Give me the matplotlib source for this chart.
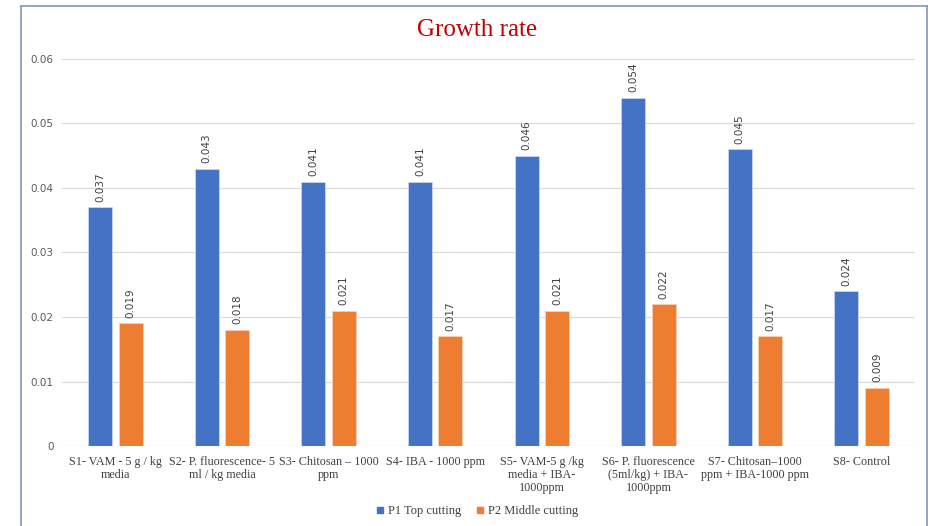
import matplotlib
matplotlib.use("Agg")
import matplotlib.pyplot as plt
import numpy as np
from matplotlib.lines import Line2D

categories = [
    "S1- VAM - 5 g / kg\nmedia",
    "S2- P. fluorescence- 5\nml / kg media",
    "S3- Chitosan – 1000\nppm",
    "S4- IBA - 1000 ppm",
    "S5- VAM-5 g /kg\nmedia + IBA-\n1000ppm",
    "S6- P. fluorescence\n(5ml/kg) + IBA-\n1000ppm",
    "S7- Chitosan–1000\nppm + IBA-1000 ppm",
    "S8- Control",
]
p1_values = [0.037, 0.043, 0.041, 0.041, 0.045, 0.054, 0.046, 0.024]
p2_values = [0.019, 0.018, 0.021, 0.017, 0.021, 0.022, 0.017, 0.009]
p1_labels = ["0.037", "0.043", "0.041", "0.041", "0.046", "0.054", "0.045", "0.024"]
p2_labels = ["0.019", "0.018", "0.021", "0.017", "0.021", "0.022", "0.017", "0.009"]
series_names = ["P1 Top cutting", "P2 Middle cutting"]
y_ticks = [0, 0.01, 0.02, 0.03, 0.04, 0.05, 0.06]
y_tick_labels = ["0", "0.01", "0.02", "0.03", "0.04", "0.05", "0.06"]

blue = "#4472C4"
orange = "#ED7D31"

fig = plt.figure(figsize=(9.35, 5.26), dpi=100)
ax = fig.add_axes([62/935, (526-446)/526, (915-62)/935, (446-59)/526])

x = np.arange(len(categories))
w = 0.225
off = 0.143
b1 = ax.bar(x - off, p1_values, w, color=blue, edgecolor="#c9d6ee", linewidth=0.6, label=series_names[0], zorder=3)
b2 = ax.bar(x + off, p2_values, w, color=orange, edgecolor="#f8d0b5", linewidth=0.6, label=series_names[1], zorder=3)

for bars, labs in ((b1, p1_labels), (b2, p2_labels)):
    for r, t in zip(bars, labs):
        ax.annotate(t, (r.get_x() + r.get_width()/2, r.get_height()),
                    xytext=(0, 4), textcoords="offset points",
                    rotation=90, ha="center", va="bottom",
                    fontsize=7.5, color="#404040", family="DejaVu Sans")

ax.set_xlim(-0.5, len(categories) - 0.5)
ax.set_ylim(0, 0.06)
ax.set_yticks(y_ticks)
ax.set_yticklabels(y_tick_labels, fontsize=7.5, color="#595959", family="DejaVu Sans")
ax.set_xticks(x)
ax.set_xticklabels(categories, fontsize=8.7, color="#404040", family="Liberation Serif", linespacing=1.15)
ax.tick_params(axis="both", length=0, pad=6)
ax.tick_params(axis="x", pad=7)
ax.grid(axis="y", color="#d9d9d9", linewidth=0.8, zorder=0)
for s in ax.spines.values():
    s.set_visible(False)
ax.axhline(0, color="#d9d9d9", linewidth=0.8, zorder=1)

fig.text(477/935, 1 - 30/526, "Growth rate", ha="center", va="center",
         fontsize=18, color="#C00000", family="Liberation Serif")

handles = [Line2D([], [], marker="s", linestyle="none", markersize=4.5, color=blue),
           Line2D([], [], marker="s", linestyle="none", markersize=4.5, color=orange)]
fig.legend(handles, series_names, loc="center", bbox_to_anchor=(477/935, 1 - 511/526),
           ncol=2, frameon=False, handlelength=0.7, handletextpad=0.3, columnspacing=1.2,
           prop={"family": "Liberation Serif", "size": 9}, labelcolor="#404040")

border = "#8497b8"
fig.add_artist(Line2D([21/935, 21/935], [0, 1 - 6/526], transform=fig.transFigure, color=border, linewidth=1.2))
fig.add_artist(Line2D([21/935, 927/935], [1 - 6/526, 1 - 6/526], transform=fig.transFigure, color=border, linewidth=1.2))
fig.add_artist(Line2D([927/935, 927/935], [0, 1 - 6/526], transform=fig.transFigure, color=border, linewidth=1.2))

fig.savefig("out.png", dpi=100)
